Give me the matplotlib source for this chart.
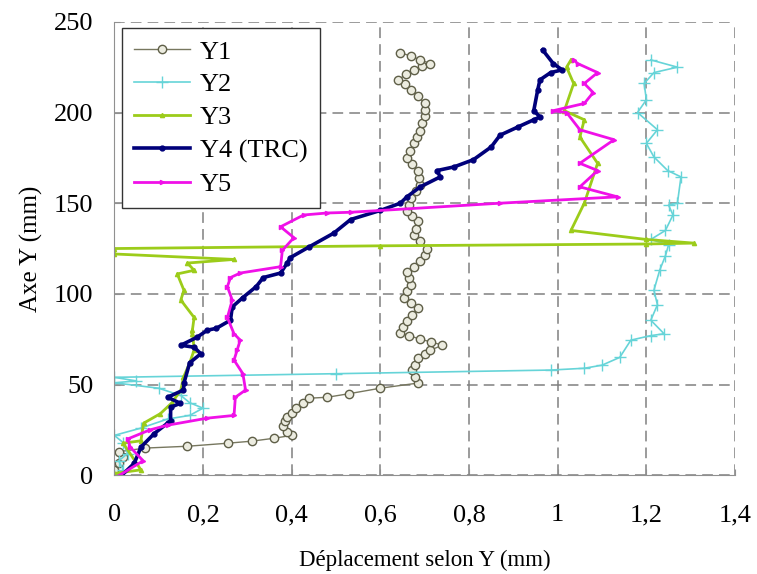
import matplotlib
matplotlib.use("Agg")
import matplotlib.pyplot as plt

plt.rcParams['font.family'] = ['Liberation Serif', 'DejaVu Serif']

# Y1 - open circles
y1_x = [0.0, 0.01, 0.02, 0.01, 0.07, 0.165, 0.257, 0.31, 0.36, 0.40, 0.39, 0.38, 0.385,
        0.39, 0.40, 0.41, 0.425, 0.44, 0.48, 0.53, 0.60, 0.684, 0.678, 0.672, 0.678,
        0.684, 0.70, 0.713, 0.74, 0.715, 0.69, 0.665, 0.645, 0.652, 0.66, 0.672, 0.684,
        0.67, 0.654, 0.66, 0.669, 0.665, 0.66, 0.675, 0.69, 0.70, 0.706, 0.69, 0.675,
        0.68, 0.684, 0.672, 0.66, 0.665, 0.669, 0.68, 0.69, 0.687, 0.684, 0.672, 0.66,
        0.667, 0.675, 0.683, 0.69, 0.695, 0.70, 0.70, 0.70, 0.685, 0.67, 0.655, 0.64,
        0.658, 0.675, 0.695, 0.713, 0.69, 0.67, 0.645]
y1_y = [3, 7, 10, 13, 15, 16, 17.7, 18.8, 20.4, 22, 24, 27, 30, 32, 34.5, 37, 40,
        42.5, 43, 45, 48, 50.8, 54, 58, 61, 64.5, 67, 69, 71.7, 73.5, 75, 77, 78.6, 82,
        85, 88.5, 92, 95, 97.8, 101.5, 105, 108.5, 112, 115, 118, 121.5, 125, 129,
        132.5, 136, 140, 143, 145.5, 149, 153, 156.5, 160, 164, 168, 171.5, 175, 179,
        183, 186.5, 190, 194, 198, 201.5, 205, 209, 212.5, 215.5, 218, 221, 223.5,
        225.5, 227, 229, 231, 233]

# Y2
y2_x = [0.0, 0.02, 0.01, 0.03, 0.02, 0.0, 0.06, 0.12, 0.17, 0.2, 0.17, 0.15, 0.1, 0.0,
        0.05, 0.0, 0.5, 0.984, 1.06, 1.10, 1.14, 1.165, 1.21, 1.24, 1.21, 1.225, 1.217,
        1.23, 1.243, 1.25, 1.21, 1.243, 1.26, 1.25, 1.27, 1.278, 1.248, 1.217, 1.20,
        1.225, 1.18, 1.20, 1.195, 1.217, 1.27, 1.21]
y2_y = [0, 3, 8, 12, 18, 22, 26, 31, 33, 37, 40, 44, 48, 51, 52, 54, 56, 58, 59,
        60.7, 65, 74.5, 77, 78, 85.5, 94, 102, 113, 121, 127, 130, 135, 143.5, 149,
        150, 164.5, 168, 175.5, 183, 190.5, 200, 207, 216, 222, 225, 229]

# Y3
y3_x = [0.0, 0.06, 0.02, 0.06, 0.066, 0.104, 0.13, 0.15, 0.156, 0.17, 0.18, 0.176,
        0.175, 0.18, 0.15, 0.157, 0.142, 0.18, 0.165, 0.27, 0.0, 0.0, 0.6, 1.20, 1.307,
        1.20, 1.03, 1.06, 1.09, 1.05, 1.06, 1.015, 1.036, 1.02, 1.03]
y3_y = [1, 3, 17.7, 19, 28.7, 34, 40, 47, 54, 62, 69, 80, 78, 87, 96.6, 102, 111,
        113, 117, 119, 122, 125, 126.5, 127.5, 128, 130, 135, 150, 172, 186.5, 196,
        201, 216, 225, 229]

# Y4 (TRC)
y4_x = [0.01, 0.045, 0.06, 0.09, 0.12, 0.127, 0.127, 0.149, 0.12, 0.156, 0.157, 0.17,
        0.195, 0.18, 0.15, 0.186, 0.21, 0.23, 0.262, 0.266, 0.29, 0.32, 0.336, 0.375,
        0.39, 0.397, 0.44, 0.495, 0.533, 0.60, 0.645, 0.66, 0.69, 0.735, 0.728, 0.766,
        0.81, 0.85, 0.87, 0.91, 0.946, 0.96, 0.946, 0.955, 0.96, 0.984, 1.01, 0.99,
        0.966]
y4_y = [-1.6, 6.6, 15.5, 23, 28.7, 30, 37.5, 39.7, 43, 47, 50.8, 62, 67, 70.6, 71.7,
        76, 80, 81, 85.5, 92.8, 98, 104, 109, 111.5, 117, 120, 126, 133.5, 141, 146,
        150, 153.5, 159, 164.5, 168, 170, 174, 181, 187.5, 192, 196, 197.6, 201, 212.5,
        218, 222, 223.5, 227, 234.5]

# Y5
y5_x = [0.005, 0.065, 0.036, 0.03, 0.08, 0.12, 0.21, 0.27, 0.273, 0.296, 0.29, 0.27,
        0.277, 0.284, 0.27, 0.255, 0.266, 0.255, 0.262, 0.284, 0.375, 0.379, 0.405,
        0.375, 0.427, 0.48, 0.533, 0.87, 1.135, 1.05, 1.09, 1.05, 1.127, 1.05, 1.02,
        0.99, 1.06, 1.08, 1.06, 1.09, 1.045, 1.036]
y5_y = [-1, 8, 15.5, 20, 25, 27.6, 31.5, 33, 43, 47, 56, 63.5, 69, 74.5, 78, 87,
        96.6, 104, 109, 111.5, 115, 124, 131, 137, 143.5, 144.6, 145, 150, 153.5, 159,
        168, 172, 185, 190.5, 200, 201, 205, 211, 216, 222, 227, 229]

x_ticks = [0, 0.2, 0.4, 0.6, 0.8, 1.0, 1.2, 1.4]
x_tick_labels = ["0", "0,2", "0,4", "0,6", "0,8", "1", "1,2", "1,4"]
y_ticks = [0, 50, 100, 150, 200, 250]

fig = plt.figure(figsize=(7.57, 5.74), dpi=100)
ax = fig.add_axes([0.151, 0.172, 0.820, 0.790])

ax.plot(y1_x, y1_y, color="#77775f", lw=1, marker="o", ms=6, mfc="#ecece0",
        mec="#5f5f48", mew=1, label="Y1")
ax.plot(y2_x, y2_y, color="#66d4d8", lw=1.2, marker="+", ms=9, mew=1, label="Y2")
ax.plot(y3_x, y3_y, color="#9ccc1a", lw=2, marker="^", ms=3, label="Y3")
ax.plot(y4_x, y4_y, color="#00007a", lw=2.6, marker="o", ms=3.5, label="Y4 (TRC)")
ax.plot(y5_x, y5_y, color="#f010e8", lw=2, marker=">", ms=3, label="Y5")

ax.set_xlim(0, 1.4)
ax.set_ylim(0, 250)
ax.set_xticks(x_ticks)
ax.set_xticklabels(x_tick_labels)
ax.set_yticks(y_ticks)
ax.grid(True, color="#808080", ls=(0, (7, 4)), lw=1.1)
for s in ["top", "right"]:
    ax.spines[s].set_visible(False)
for s in ["left", "bottom"]:
    ax.spines[s].set_color("#909090")
ax.tick_params(direction="in", length=4, color="#909090", labelsize=19)
ax.tick_params(axis="y", pad=15)
ax.tick_params(axis="x", pad=21)
for t in ax.get_xticklabels() + ax.get_yticklabels():
    t.set_clip_on(False)

ax.set_xlabel("Déplacement selon Y (mm)", fontsize=16.5, labelpad=17)
ax.set_ylabel("Axe Y (mm)", fontsize=18, labelpad=8)

leg = ax.legend(loc="upper left", bbox_to_anchor=(0.013, 0.986), fontsize=19,
                fancybox=False, framealpha=1, edgecolor="#333333", handlelength=2.1,
                borderpad=0.45, labelspacing=0.36, handletextpad=0.4, borderaxespad=0)
leg.get_frame().set_linewidth(1)

fig.savefig("out.png", dpi=100)
